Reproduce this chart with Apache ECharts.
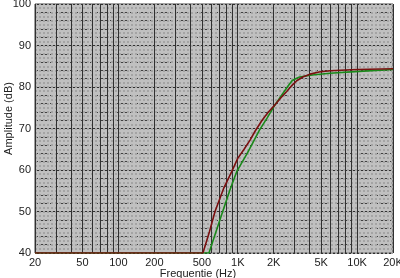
<!DOCTYPE html>
<html>
<head>
<meta charset="utf-8">
<script src="https://cdn.jsdelivr.net/npm/echarts@6/dist/echarts.min.js"></script>
<style>
  html, body { margin: 0; padding: 0; background: #fff; }
  #chart { width: 400px; height: 278px; }
</style>
</head>
<body>
<div id="chart"></div>
<script>
// frequentie grid lines (Hz) en labels
const gridFreqs = [20, 30, 40, 50, 60, 70, 80, 90, 100, 200, 300, 400, 500, 600, 700, 800, 900,
  1000, 2000, 3000, 4000, 5000, 6000, 7000, 8000, 9000, 10000, 20000]
const labelFreqs = [20, 50, 100, 200, 500, 1000, 2000, 5000, 10000, 20000]

// [Hz, dB]
const redCurve = [
  [20, 40], [511, 40], [580, 45.2], [645, 50], [760, 55.5], [890, 59.6], [1000, 62.8],
  [1130, 65], [1268, 67.2], [1400, 69.4], [1600, 72], [1800, 73.9], [2051, 75.7],
  [2300, 77.4], [2571, 78.9], [2850, 80.4], [3120, 81.5], [3500, 82.4], [4035, 83.1],
  [4800, 83.6], [5930, 83.9], [8000, 84.1], [10000, 84.2], [20000, 84.4],
]
const greenCurve = [
  [20, 40], [574, 40], [660, 45.3], [748, 50], [860, 55.2], [980, 59.6], [1200, 64],
  [1350, 66.8], [1520, 69.6], [1760, 72.5], [2051, 75.7], [2395, 78.5], [2650, 80.3],
  [2850, 81.5], [3050, 82], [3300, 82.4], [4200, 82.9], [5930, 83.3], [9610, 83.7],
  [20000, 84.2],
]

const chart = echarts.init(document.getElementById('chart'), null, { renderer: 'canvas' })

const fmt = v => (v >= 1000 ? v / 1000 + 'K' : String(v))

chart.setOption({
  animation: false,
  backgroundColor: '#fff',
  textStyle: { fontFamily: 'Liberation Sans, Arial, sans-serif' },
  grid: {
    left: 35, right: 7, top: 4, bottom: 25,
    outerBoundsMode: 'none',
    containLabel: false,
    show: true,
    backgroundColor: '#c0c0c0',
    borderColor: '#404040',
    borderWidth: 1,
  },
  xAxis: {
    type: 'log',
    logBase: 10,
    min: 20,
    max: 20000,
    name: 'Frequentie (Hz)',
    nameLocation: 'middle',
    nameGap: 15,
    nameMoveOverlap: false,
    nameTextStyle: { fontSize: 11, color: '#222', padding: [0, 32, 0, 0] },
    axisLine: { show: false },
    axisTick: { show: false, customValues: gridFreqs },
    axisLabel: {
      customValues: labelFreqs,
      formatter: fmt,
      fontSize: 11,
      color: '#222',
      margin: 4,
    },
    splitLine: { show: true, lineStyle: { color: '#303030', width: 1 } },
    minorSplitLine: { show: false },
  },
  yAxis: [
    {
      type: 'value',
      min: 40,
      max: 100,
      interval: 10,
      name: 'Amplitude (dB)',
      nameLocation: 'middle',
      nameGap: 21,
      nameMoveOverlap: false,
      nameTextStyle: { fontSize: 11, color: '#222', padding: [0, 0, 0, 20] },
      axisLine: { show: false },
      axisTick: { show: false },
      axisLabel: { fontSize: 11, color: '#222', margin: 4 },
      splitLine: { show: true, lineStyle: { color: '#303030', width: 1 } },
      minorTick: { show: false, splitNumber: 5 },
      minorSplitLine: { show: true, lineStyle: { color: '#404040', width: 1, type: [3, 2] } },
    },
    {
      type: 'value',
      min: 40,
      max: 100,
      interval: 1,
      show: true,
      axisLine: { show: false },
      axisTick: { show: false },
      axisLabel: { show: false },
      splitLine: { show: true, lineStyle: { color: '#a4a4a4', width: 2, type: [2, 2] } },
    },
  ],
  series: [
    {
      type: 'line',
      data: greenCurve,
      showSymbol: false,
      lineStyle: { color: '#1a8a1a', width: 1.6 },
      z: 3,
    },
    {
      type: 'line',
      data: redCurve,
      showSymbol: false,
      lineStyle: { color: '#7a1010', width: 1.6 },
      z: 4,
    },
  ],
})
</script>
</body>
</html>
